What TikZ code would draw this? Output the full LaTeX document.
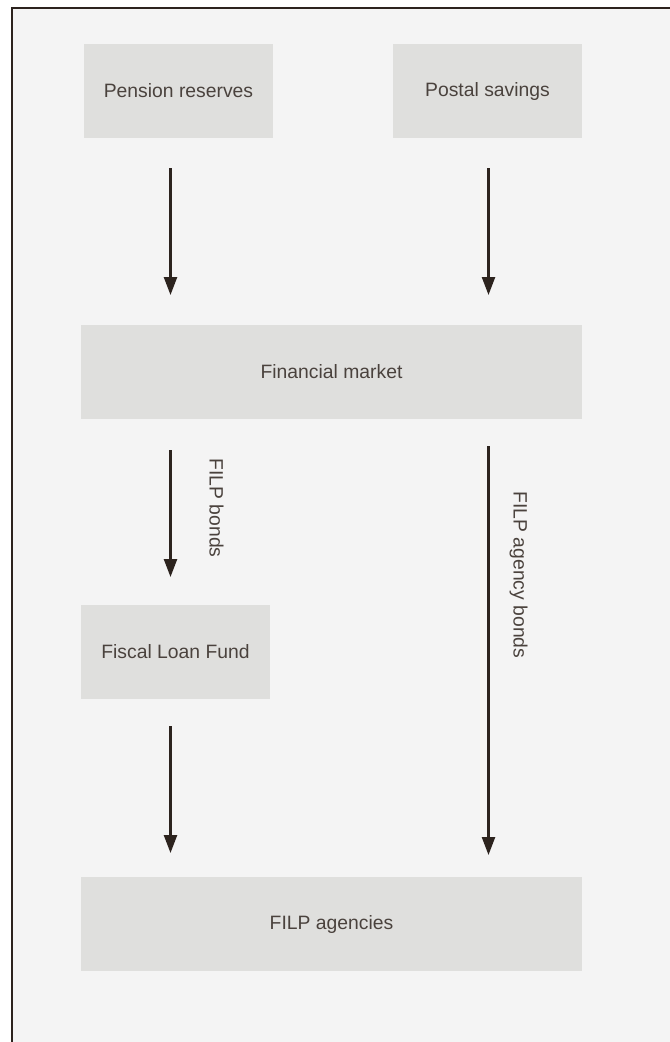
\documentclass[tikz,border=0pt]{standalone}
\usepackage{fontspec}
\setmainfont{Liberation Sans}
\usetikzlibrary{arrows.meta}
\definecolor{panel}{HTML}{F4F4F4}
\definecolor{boxfill}{HTML}{DFDFDD}
\definecolor{ink}{HTML}{2C231E}
\definecolor{labelink}{HTML}{4A423D}
\tikzset{
  flowbox/.style={fill=boxfill, draw=none, inner sep=0pt, outer sep=0pt,
    minimum height=70.5pt, text=labelink, font=\fontsize{14.5pt}{17pt}\selectfont},
  narrowbox/.style={flowbox, minimum width=141.75pt},
  widebox/.style={flowbox, minimum width=375.75pt},
  flow/.style={draw=ink, line width=1.8pt,
    -{Triangle[length=13.5pt, width=9.75pt]}},
  sidelabel/.style={rotate=-90, text=labelink, inner sep=0pt,
    font=\fontsize{14.5pt}{17pt}\selectfont},
  frame/.style={draw=ink, line width=1.5pt}
}
\begin{document}
\begin{tikzpicture}[x=0.75pt, y=-0.75pt]
  % canvas and panel
  \useasboundingbox (0,0) rectangle (670,1042);
  \fill[white] (0,0) rectangle (670,1042);
  \fill[panel] (12,8) rectangle (670,1042);
  \draw[frame] (12,1042) -- (12,8) -- (670,8);

  % sources
  \node[narrowbox] (pension) at (178.5,91) {Pension reserves};
  \node[narrowbox] (postal)  at (487.5,91) {Postal savings};
  % market, fund and agencies
  \node[widebox]   (market)  at (331.5,372) {Financial market};
  \node[narrowbox] (fund)    at (175.5,652) {Fiscal Loan Fund};
  \node[widebox]   (agencies) at (331.5,924) {FILP agencies};

  % flows
  \draw[flow, shorten <=22.5pt, shorten >=22.5pt]
    ([xshift=-6pt]pension.south) -- ([xshift=-6pt]pension.south |- market.north);
  \draw[flow, shorten <=22.5pt, shorten >=22.5pt]
    ([xshift=0.75pt]postal.south) -- ([xshift=0.75pt]postal.south |- market.north);
  \draw[flow, shorten <=23.25pt, shorten >=21pt]
    ([xshift=-3.75pt]fund.north |- market.south) -- ([xshift=-3.75pt]fund.north);
  \draw[flow, shorten <=20.25pt, shorten >=16.5pt]
    ([xshift=0.75pt]postal.south |- market.south) -- ([xshift=0.75pt]postal.south |- agencies.north);
  \draw[flow, shorten <=20.25pt, shorten >=18pt]
    ([xshift=-3.75pt]fund.south) -- ([xshift=-3.75pt]fund.south |- agencies.north);

  % flow labels
  \node[sidelabel] (bondslabel) at (216.5,508) {FILP bonds};
  \node[sidelabel] (agencybondslabel) at (518.5,575) {FILP agency bonds};
\end{tikzpicture}
\end{document}
